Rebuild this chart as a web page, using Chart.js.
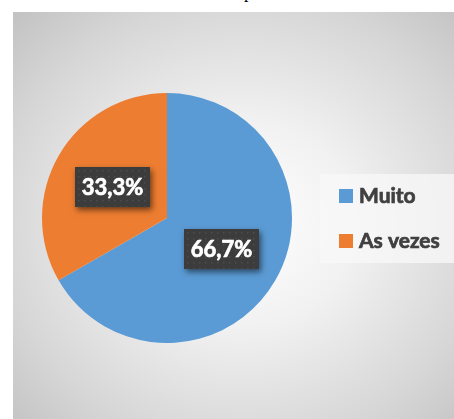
<!DOCTYPE html>
<html>
<head>
<meta charset="utf-8">
<script src="https://cdn.jsdelivr.net/npm/chart.js@4"></script>
<style>
    html, body { margin: 0; padding: 0; background: #ffffff; }
    body { width: 454px; height: 419px; position: relative; overflow: hidden; }
    #cut-title {
        position: absolute; left: 244px; top: -18px;
        font: 18px "Liberation Serif", serif; color: #000;
    }
    #frame {
        position: absolute; left: 13px; top: 12px; width: 441px; height: 407px;
        background: radial-gradient(ellipse farthest-corner at 52% 52%, #ffffff 0%, #f1f1f1 35%, #d6d6d6 75%, #c2c2c2 100%);
    }
    #frame canvas { position: absolute; left: 0; top: 0; }
</style>
</head>
<body>
<div id="cut-title">p</div>
<div id="frame"><canvas id="pie-chart" width="441" height="407"></canvas></div>
<script>
// Data
const categories = ['Muito', 'As vezes'];
const shares = [66.7, 33.3];
const sliceColors = ['#5b9bd5', '#ed7d31'];

const fmtPct = (v) => v.toFixed(1).replace('.', ',') + '%';

// Dark boxed data labels with dot texture and drop shadow
const boxLabels = {
    id: 'boxLabels',
    afterDatasetsDraw(chart) {
        const ctx = chart.ctx;
        const meta = chart.getDatasetMeta(0);
        ctx.save();
        ctx.font = 'bold 22px Lato, "Open Sans", sans-serif';
        meta.data.forEach((arc, i) => {
            const pos = arc.tooltipPosition();
            const text = fmtPct(chart.data.datasets[0].data[i]);
            const w = 75, h = 40;
            const x = Math.round(pos.x - w / 2), y = Math.round(pos.y - h / 2);

            ctx.save();
            ctx.shadowColor = 'rgba(0,0,0,0.55)';
            ctx.shadowBlur = 6;
            ctx.shadowOffsetX = 2;
            ctx.shadowOffsetY = 3;
            ctx.fillStyle = '#3c3c3c';
            ctx.fillRect(x, y, w, h);
            ctx.restore();

            ctx.fillStyle = '#4d4d4d';
            for (let dy = 3; dy < h; dy += 6) {
                for (let dx = 3; dx < w; dx += 6) {
                    ctx.fillRect(x + dx, y + dy, 1.5, 1.5);
                }
            }

            ctx.fillStyle = '#ffffff';
            ctx.strokeStyle = '#ffffff';
            ctx.lineWidth = 0.7;
            ctx.textAlign = 'center';
            ctx.textBaseline = 'middle';
            ctx.fillText(text, x + w / 2, y + h / 2 + 1);
            ctx.strokeText(text, x + w / 2, y + h / 2 + 1);
        });
        ctx.restore();
    }
};

// Legend panel on the right
const sideLegend = {
    id: 'sideLegend',
    afterDraw(chart) {
        const ctx = chart.ctx;
        const ds = chart.data.datasets[0];
        ctx.save();
        ctx.fillStyle = 'rgba(248,248,248,0.75)';
        ctx.fillRect(307, 162, 134, 89);
        ctx.font = 'bold 21px Lato, "Open Sans", sans-serif';
        ctx.textBaseline = 'alphabetic';
        ctx.textAlign = 'left';
        ctx.lineWidth = 0.7;
        chart.data.labels.forEach((label, i) => {
            const top = 177 + i * 45;
            ctx.fillStyle = ds.backgroundColor[i];
            ctx.fillRect(326, top, 14, 14);
            ctx.fillStyle = '#404040';
            ctx.strokeStyle = '#404040';
            ctx.fillText(label, 346, top + 14);
            ctx.strokeText(label, 346, top + 14);
        });
        ctx.restore();
    }
};

const ctx = document.getElementById('pie-chart').getContext('2d');
new Chart(ctx, {
    type: 'pie',
    data: {
        labels: categories,
        datasets: [{
            data: shares,
            backgroundColor: sliceColors,
            borderWidth: 0
        }]
    },
    options: {
        responsive: false,
        animation: false,
        layout: {
            padding: { left: 29, right: 162, top: 81, bottom: 76 }
        },
        plugins: {
            legend: { display: false },
            tooltip: { enabled: false }
        }
    },
    plugins: [boxLabels, sideLegend]
});
</script>
</body>
</html>
